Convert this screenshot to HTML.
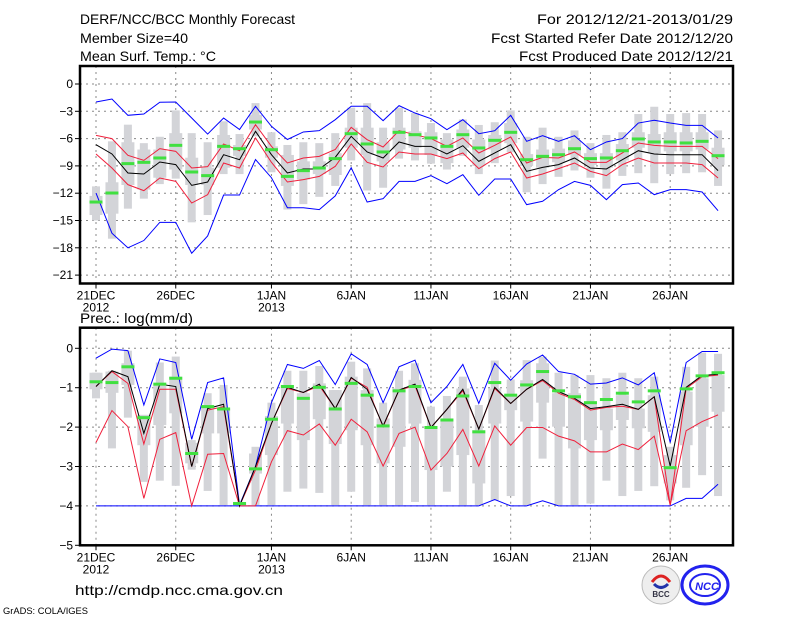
<!DOCTYPE html>
<html><head><meta charset="utf-8">
<style>
html,body{margin:0;padding:0;background:#fff;}
svg{display:block;font-family:"Liberation Sans",sans-serif;}
</style></head>
<body>
<svg id="chart" width="800" height="618" viewBox="0 0 800 618" xmlns="http://www.w3.org/2000/svg">
<rect width="800" height="618" fill="#fff"/>
<text x="80" y="24" font-size="14" textLength="215" lengthAdjust="spacingAndGlyphs">DERF/NCC/BCC Monthly Forecast</text>
<text x="80" y="43" font-size="14" textLength="108" lengthAdjust="spacingAndGlyphs">Member Size=40</text>
<text x="80" y="61" font-size="14" textLength="136" lengthAdjust="spacingAndGlyphs">Mean Surf. Temp.: °C</text>
<text x="733" y="24" font-size="14" text-anchor="end" textLength="196" lengthAdjust="spacingAndGlyphs">For 2012/12/21-2013/01/29</text>
<text x="733" y="43" font-size="14" text-anchor="end" textLength="242" lengthAdjust="spacingAndGlyphs">Fcst Started Refer Date 2012/12/20</text>
<text x="733" y="61" font-size="14" text-anchor="end" textLength="214" lengthAdjust="spacingAndGlyphs">Fcst Produced Date 2012/12/21</text>
<text x="80" y="323" font-size="14" textLength="113" lengthAdjust="spacingAndGlyphs">Prec.: log(mm/d)</text>
<text x="75" y="595" font-size="14" textLength="208" lengthAdjust="spacingAndGlyphs">http://cmdp.ncc.cma.gov.cn</text>
<text x="3" y="614" font-size="9" textLength="85" lengthAdjust="spacingAndGlyphs">GrADS: COLA/IGES</text>
<g>
<circle cx="661" cy="585" r="19" fill="#eee" stroke="#bbb"/>
<path d="M652 582 q9 -12 18 0" stroke="#d22" stroke-width="3" fill="none"/>
<path d="M654 584 q7 7 14 0" stroke="#23a" stroke-width="3" fill="none"/>
<text x="661" y="597" font-size="8" font-weight="bold" text-anchor="middle" fill="#334">BCC</text>
</g>
<g>
<ellipse cx="705" cy="585" rx="23" ry="19" fill="none" stroke="#22e" stroke-width="3"/>
<ellipse cx="705" cy="585" rx="15" ry="11" fill="none" stroke="#22e" stroke-width="2"/>
<text x="707" y="590" font-size="11" font-weight="bold" font-style="italic" text-anchor="middle" fill="#22e">NCC</text>
</g>
<g id="top"></g>
<g id="bot"></g>
</svg>
<script>
// ---- data: days 0..39 (21 Dec 2012 .. 29 Jan 2013)
const xTickDays = [0,5,11,16,21,26,31,36];
const xTickLabels = ["21DEC","26DEC","1JAN","6JAN","11JAN","16JAN","21JAN","26JAN"];
const xTickYears = ["2012","","2013","","","","",""];
const tTicks = [0,-3,-6,-9,-12,-15,-18,-21];
const pTicks = [0,-1,-2,-3,-4,-5];

const tMax = [-1.98,-1.65,-3.44,-3.3,-2.0,-1.98,-3.74,-5.5,-3.74,-5.0,-2.45,-4.65,-6.1,-5.27,-5.13,-3.92,-2.45,-2.45,-4.03,-2.38,-3.19,-3.81,-5.02,-3.92,-5.46,-5.13,-3.44,-6.3,-5.68,-6.3,-5.68,-7.22,-6.37,-6.0,-4.29,-3.99,-4.29,-4.54,-4.54,-5.93];
const tMin = [-11.98,-16.4,-18.0,-17.2,-15.2,-15.2,-18.6,-16.7,-12.2,-12.2,-8.3,-10.3,-13.6,-13.6,-13.8,-12.3,-9.2,-12.97,-12.6,-10.7,-10.7,-10.07,-10.95,-9.96,-12.23,-10.44,-10.44,-13.26,-12.89,-11.61,-10.7,-11.14,-12.71,-11.06,-10.88,-12.16,-11.61,-11.61,-11.87,-13.92];
const tUp = [-5.64,-6.0,-7.84,-8.39,-7.1,-7.4,-9.23,-9.08,-6.59,-7.33,-4.47,-6.85,-8.68,-8.13,-7.95,-7.2,-4.76,-6.12,-6.92,-5.13,-5.57,-6.0,-6.85,-5.93,-7.58,-6.74,-5.82,-8.68,-8.06,-8.13,-7.47,-8.61,-8.61,-7.58,-6.48,-6.74,-6.85,-6.85,-6.85,-8.2];
const tLo = [-7.69,-9.23,-11.06,-11.72,-10.33,-10.7,-13.08,-12.16,-8.68,-9.23,-5.93,-8.61,-10.77,-10.51,-10.15,-9.05,-6.59,-8.61,-9.12,-7.47,-7.69,-7.69,-8.2,-7.58,-9.3,-8.2,-7.47,-10.33,-9.89,-9.3,-8.68,-9.6,-10.07,-8.86,-8.13,-8.68,-8.68,-8.68,-8.86,-10.33];
const tMean = [-6.67,-7.69,-9.78,-9.89,-8.57,-8.86,-11.14,-10.77,-7.77,-8.32,-5.2,-7.77,-9.78,-9.34,-9.34,-8.06,-5.75,-7.47,-8.13,-6.37,-6.85,-6.85,-7.69,-6.78,-8.5,-7.58,-6.67,-9.6,-9.16,-8.86,-8.13,-9.23,-9.34,-8.32,-7.33,-7.69,-7.77,-7.77,-7.77,-9.52];
const tMed = [-12.97,-11.98,-8.75,-8.61,-8.13,-6.74,-9.67,-10.07,-6.85,-7.11,-4.18,-7.22,-10.15,-9.52,-9.23,-8.2,-5.46,-6.59,-7.47,-5.31,-5.57,-5.93,-6.85,-5.57,-7.03,-6.19,-5.31,-8.32,-7.95,-7.77,-7.11,-8.2,-8.13,-7.33,-6.04,-6.37,-6.37,-6.48,-6.3,-7.88];
const tWhiskTop = [-11.25,-6.3,-4.47,-6.5,-5.8,-2.9,-5.4,-6.4,-4.1,-5.5,-2.1,-5.3,-6.7,-6.4,-6.5,-5.4,-2.6,-2.1,-4.8,-2.6,-3.2,-4.29,-5.4,-3.9,-4.5,-4.2,-2.9,-5.8,-4.8,-5.8,-5.1,-6.5,-5.6,-5.3,-3.3,-2.5,-3.3,-3.2,-3.3,-5.1];
const tWhiskBot = [-15.0,-17.0,-13.7,-12.6,-11.0,-10.4,-15.2,-14.4,-9.9,-9.9,-5.75,-9.7,-13.8,-13.2,-12.4,-11.2,-8.4,-11.7,-11.4,-8.2,-8.4,-8.75,-9.4,-7.9,-9.9,-8.7,-7.5,-11.9,-11.0,-10.2,-9.5,-10.3,-11.5,-10.1,-9.8,-10.9,-9.9,-9.8,-9.7,-11.2];
const tBoxTop = [-12.3,-10.8,-6.4,-7.2,-7.2,-5.4,-8.1,-9.2,-5.6,-6.7,-3.4,-6.85,-7.8,-8.5,-8.5,-7.6,-4.8,-4.8,-6.4,-4.8,-5.2,-5.3,-6.1,-5.0,-6.1,-5.6,-4.3,-7.7,-7.2,-7.1,-6.2,-7.6,-7.6,-6.6,-5.3,-5.5,-5.3,-5.3,-5.3,-7.0];
const tBoxBot = [-14.4,-14.25,-11.1,-11.6,-10.3,-9.4,-11.1,-11.1,-9.2,-7.9,-5.0,-8.1,-11.2,-10.5,-9.9,-10.0,-7.0,-7.8,-8.5,-7.2,-7.0,-7.8,-8.7,-7.0,-9.0,-7.2,-6.5,-9.0,-9.2,-8.6,-7.8,-8.9,-9.2,-8.4,-7.0,-7.6,-7.4,-7.4,-7.2,-8.9];

const pMax = [-0.25,-0.02,-0.06,-1.44,-0.27,-0.36,-2.31,-0.87,-0.75,-3.98,-3.0,-1.38,-0.41,-0.51,-0.31,-0.92,-0.14,-0.41,-1.38,-0.47,-0.3,-1.38,-0.97,-0.41,-1.4,-0.38,-0.81,-0.4,-0.17,-0.59,-0.66,-0.91,-0.88,-0.75,-0.93,-0.62,-2.39,-0.36,-0.08,-0.08];
const pMin = [-4,-4,-4,-4,-4,-4,-4,-4,-4,-4,-4,-4,-4,-4,-4,-4,-4,-4,-4,-4,-4,-4,-4,-4,-4,-3.84,-4,-4,-3.87,-4,-4,-4,-4,-4,-4,-4,-4,-3.81,-3.81,-3.45];
const pUp = [-0.97,-0.59,-0.89,-2.43,-1.04,-1.04,-3.0,-1.57,-1.48,-4.0,-3.09,-1.91,-1.02,-1.12,-0.95,-1.53,-0.76,-0.99,-1.99,-1.06,-0.95,-2.01,-1.55,-1.08,-2.05,-1.02,-1.4,-1.04,-0.82,-1.14,-1.3,-1.57,-1.5,-1.47,-1.55,-1.23,-3.98,-1.02,-0.72,-0.68];
const pLo = [-2.39,-1.58,-1.99,-3.81,-2.31,-2.14,-4.0,-2.69,-2.67,-4.0,-4.0,-2.88,-2.09,-2.2,-1.92,-2.46,-1.8,-2.12,-2.99,-2.16,-2.0,-3.09,-2.67,-2.06,-2.99,-1.97,-2.46,-2.01,-2.01,-2.23,-2.35,-2.63,-2.63,-2.43,-2.57,-2.23,-3.98,-2.09,-1.86,-1.69];
const pMean = [-0.97,-0.57,-0.72,-2.16,-0.91,-0.97,-3.0,-1.53,-1.42,-4.0,-3.0,-1.91,-0.99,-1.12,-0.91,-1.53,-0.74,-1.04,-1.97,-1.06,-0.91,-2.01,-1.55,-1.04,-2.05,-0.99,-1.4,-1.04,-0.79,-1.1,-1.27,-1.53,-1.48,-1.42,-1.55,-1.23,-2.99,-0.99,-0.69,-0.66];
const pMed = [-0.85,-0.87,-0.47,-1.76,-0.91,-0.76,-2.67,-1.48,-1.54,-3.94,-3.06,-1.8,-0.97,-1.27,-0.99,-1.54,-0.89,-1.19,-1.97,-1.08,-0.97,-2.01,-1.82,-1.21,-2.12,-0.87,-1.19,-0.93,-0.59,-1.08,-1.23,-1.38,-1.3,-1.14,-1.36,-1.08,-3.03,-1.03,-0.7,-0.62];
const pWhiskTop = [-0.62,-0.57,-0.06,-1.69,-0.36,-0.21,-2.33,-1.14,-0.93,-3.9,-2.5,-1.38,-0.57,-0.57,-0.45,-1.06,-0.34,-0.51,-1.38,-0.57,-0.38,-1.48,-1.21,-0.72,-1.44,-0.31,-0.79,-0.3,-0.21,-0.62,-0.68,-0.68,-0.76,-0.62,-0.76,-0.72,-2.5,-0.47,-0.11,-0.14];
const pWhiskBot = [-1.27,-2.54,-1.76,-3.39,-3.36,-3.49,-3.08,-3.62,-3.98,-4.0,-3.98,-3.98,-3.64,-3.56,-3.67,-3.98,-3.64,-3.98,-3.98,-3.98,-3.9,-3.98,-3.64,-3.98,-3.98,-3.86,-3.75,-3.98,-2.8,-3.98,-3.98,-3.94,-3.36,-3.75,-3.62,-3.5,-3.86,-3.54,-3.22,-3.75];
const pBoxTop = [-0.62,-0.59,-0.38,-1.69,-0.93,-0.72,-2.4,-1.44,-1.53,-3.9,-2.67,-1.72,-0.93,-1.14,-0.89,-1.06,-0.72,-1.06,-1.78,-1.02,-0.8,-1.99,-1.78,-1.02,-2.08,-1.02,-1.23,-0.81,-0.38,-1.14,-1.14,-1.4,-1.53,-1.19,-1.53,-1.19,-2.71,-1.1,-0.76,-0.68];
const pBoxBot = [-1.04,-1.13,-0.93,-2.46,-1.95,-1.65,-2.92,-2.16,-2.16,-4.0,-3.18,-2.71,-1.91,-2.33,-1.8,-2.43,-2.08,-2.46,-2.92,-2.5,-1.91,-3.09,-3.0,-2.71,-3.43,-1.91,-1.57,-1.86,-1.38,-1.99,-2.54,-2.33,-2.08,-1.82,-2.03,-2.12,-3.43,-2.46,-1.99,-1.61];

const NS="http://www.w3.org/2000/svg";
function mk(parent, tag, attrs){const e=document.createElementNS(NS,tag);for(const k in attrs)e.setAttribute(k,attrs[k]);parent.appendChild(e);return e;}
const X0=80, X1=733;
function xDay(d){return 96+15.95*d;}

function panel(g, cfg){
  const yv = v => cfg.y0 - v*cfg.k;
  // gridlines
  cfg.ticks.forEach(t=>{
    const l=mk(g,'line',{x1:X0,x2:X1,y1:yv(t),y2:yv(t),stroke:'#888','stroke-dasharray':'2,4','stroke-width':1});
    
    
    const tk=mk(g,'line',{x1:X0-5,x2:X0,y1:yv(t),y2:yv(t),stroke:'#000'});
    
    
    const tx=mk(g,'text',{x:X0-7,y:yv(t)+4,'font-size':12,'text-anchor':'end'});
    tx.textContent = t===0?'0':'\u2212'+Math.abs(t);
    
    
  });
  xTickDays.forEach((d,i)=>{
    const l=mk(g,'line',{x1:xDay(d),x2:xDay(d),y1:cfg.top,y2:cfg.bot,stroke:'#888','stroke-dasharray':'2,4'});
    
    
    const tk=mk(g,'line',{x1:xDay(d),x2:xDay(d),y1:cfg.bot,y2:cfg.bot+5,stroke:'#000'});
    
    
    const tx=mk(g,'text',{x:xDay(d),y:cfg.bot+16,'font-size':12,'text-anchor':'middle'});
    tx.textContent=xTickLabels[i];
    
    
    if(xTickYears[i]){
      const ty=mk(g,'text',{x:xDay(d),y:cfg.bot+28,'font-size':12,'text-anchor':'middle'});
      ty.textContent=xTickYears[i];
      
      
    }
  });
  // boxes
  for(let i=0;i<cfg.wt.length;i++){
    const x=xDay(i);
    const w=mk(g,'rect',{x:x-4,y:yv(cfg.wt[i]),width:8,height:Math.max(1,yv(cfg.wb[i])-yv(cfg.wt[i])),fill:'#d3d4d8'});
    
    
    const b=mk(g,'rect',{x:x-6.5,y:yv(cfg.bt[i]),width:13,height:Math.max(1,yv(cfg.bb[i])-yv(cfg.bt[i])),fill:'#d3d4d8'});
    
    
  }
  const line=(arr,color,name)=>{
    const p=mk(g,'polyline',{points:arr.map((v,i)=>xDay(i)+','+yv(v)).join(' '),fill:'none',stroke:color,'stroke-width':1});
    
    
  };
  line(cfg.mx,'#0000ff','max-line');
  line(cfg.mn,'#0000ff','min-line');
  line(cfg.up,'#f0203c','upper-spread-line');
  line(cfg.lo,'#f0203c','lower-spread-line');
  line(cfg.mean,'#000','ensemble-mean-line');
  cfg.med.forEach((v,i)=>{
    const r=mk(g,'rect',{x:xDay(i)-6.5,y:yv(v)-1.5,width:13,height:3,fill:'#40e040'});
    
    
  });
  const f=mk(g,'rect',{x:X0,y:cfg.top,width:X1-X0,height:cfg.bot-cfg.top,fill:'none',stroke:'#000','stroke-width':2.5});
  
  
}
panel(document.getElementById('top'),{y0:84,k:9.1,top:66,bot:283.5,ticks:tTicks,
  mx:tMax,mn:tMin,up:tUp,lo:tLo,mean:tMean,med:tMed,wt:tWhiskTop,wb:tWhiskBot,bt:tBoxTop,bb:tBoxBot});
panel(document.getElementById('bot'),{y0:348.3,k:39.4,top:327.7,bot:545.3,ticks:pTicks,
  mx:pMax,mn:pMin,up:pUp,lo:pLo,mean:pMean,med:pMed,wt:pWhiskTop,wb:pWhiskBot,bt:pBoxTop,bb:pBoxBot});
</script>
</body></html>
